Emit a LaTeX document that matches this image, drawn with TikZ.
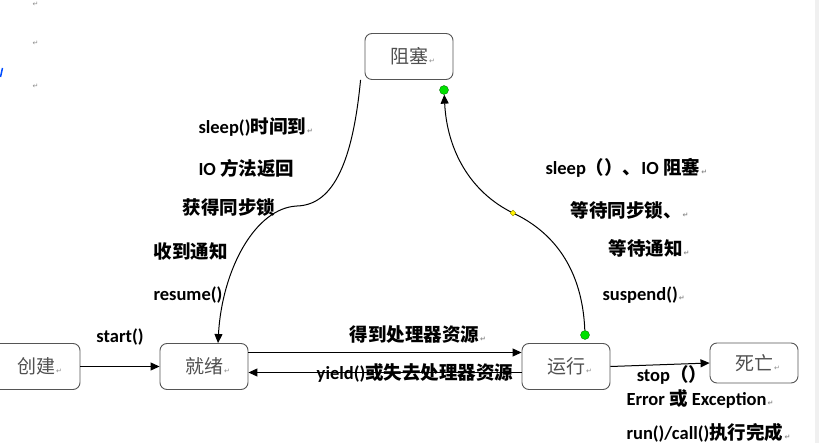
\documentclass[tikz,border=0pt]{standalone}
\usepackage{fontspec}
\setmainfont{Carlito}
\newfontfamily\zhfont{Noto Sans CJK SC}
\newfontfamily\symfont{DejaVu Sans}
\usetikzlibrary{arrows.meta,shapes.geometric}
\definecolor{boxtext}{HTML}{505050}
\definecolor{boxline}{HTML}{555555}
\definecolor{dotgreen}{HTML}{00E000}
\newcommand\zh[1]{{\zhfont #1}}
\newcommand\parmark{{\symfont\fontsize{7}{7}\selectfont\color{black!45}\,↵}}
\newcommand\boxmark{\rlap{\parmark}}

\begin{document}
\begin{tikzpicture}[x=1pt, y=-1pt, >={Triangle[length=9pt,width=8pt]},
  state/.style={draw=boxline, line width=0.9pt, rounded corners=7pt,
    minimum width=88pt, minimum height=46pt, text=boxtext,
    font=\zhfont\fontsize{19}{19}\selectfont},
  lbl/.style={font=\fontsize{18.5}{18.5}\selectfont\bfseries, inner sep=0pt},
  handle/.style={circle, fill=dotgreen, draw=green!40!black, line width=0.3pt,
    inner sep=0pt, minimum size=9pt},
  knot/.style={diamond, fill=yellow, draw=olive, line width=0.3pt,
    inner sep=0pt, minimum size=6pt},
  every path/.style={line width=1pt}]
\useasboundingbox (0,0) rectangle (819,443);
\fill[black!6] (815,0) rectangle (819,443);

% word marks at the left margin
\foreach \y [count=\i] in {4, 43, 86}
  \node (mark-\i) at (35,\y) {\parmark};
\draw[blue!70!cyan, line width=1.5pt] (0.5,77) -- (2.5,68);

% states
\node [state] (create) at (36,366.5)  {创建\boxmark};
\node [state] (ready)  at (204,366.5) {就绪\boxmark};
\node [state] (run)    at (566,366.5) {运行\boxmark};
\node [state, minimum height=40pt] (dead) at (754,363) {死亡\boxmark};
\node [state] (block)  at (409,56.5)  {阻塞\boxmark};

% edges along the bottom
\draw [->] (create) -- (ready)
  node [lbl, midway, above=21pt] {start()};
\draw [->] ([yshift=14pt]ready.east) -- ([yshift=14pt]run.west)
  node [lbl, pos=0.62, above=9pt] {\zh{得到处理器资源}\parmark};
\draw [->] ([yshift=-6pt]run.west) -- ([yshift=-6pt]ready.east)
  node [lbl, pos=0.39] {yield()\zh{或失去处理器资源}};
\draw [->] (run.east) -- (dead.west)
  node [lbl, pos=0.62, below=1pt] {stop\zh{（）}};

% blocked -> ready
\draw [->] ([xshift=-4pt]block.south west) .. controls (352,170) and (330,205) .. (297,206)
  .. controls (255,208) and (222,270) .. ([xshift=14pt]ready.north);

% running -> blocked
\node [handle] (hb) at (444,90) {};
\node [handle] (hr) at (585,335) {};
\draw [->] (hr) .. controls (582,260) and (545,228) .. (513,213) node [knot] (k) {}
  .. controls (470,192) and (447,150) .. (hb);

% names of the transitions
\foreach \x/\y/\t [count=\i] in {198/127/{sleep()\zh{时间到}\parmark}, 198/168/{IO \zh{方法返回}},
    182/208/{\zh{获得同步锁}}, 153/252/{\zh{收到通知}}, 153/295/{resume()}}
  \node [lbl, anchor=west] (left-\i) at (\x,\y) {\t};
\foreach \x/\y/\t [count=\i] in {545/168/{sleep\zh{（）、}IO \zh{阻塞}\parmark},
    570/210/{\zh{等待同步锁、}\parmark}, 608/248/{\zh{等待通知}\parmark},
    602/295/{suspend()\parmark}, 626/399/{Error \zh{或} Exception\parmark},
    626/433/{run()/call()\zh{执行完成}\parmark}}
  \node [lbl, anchor=west] (right-\i) at (\x,\y) {\t};
\end{tikzpicture}
\end{document}
